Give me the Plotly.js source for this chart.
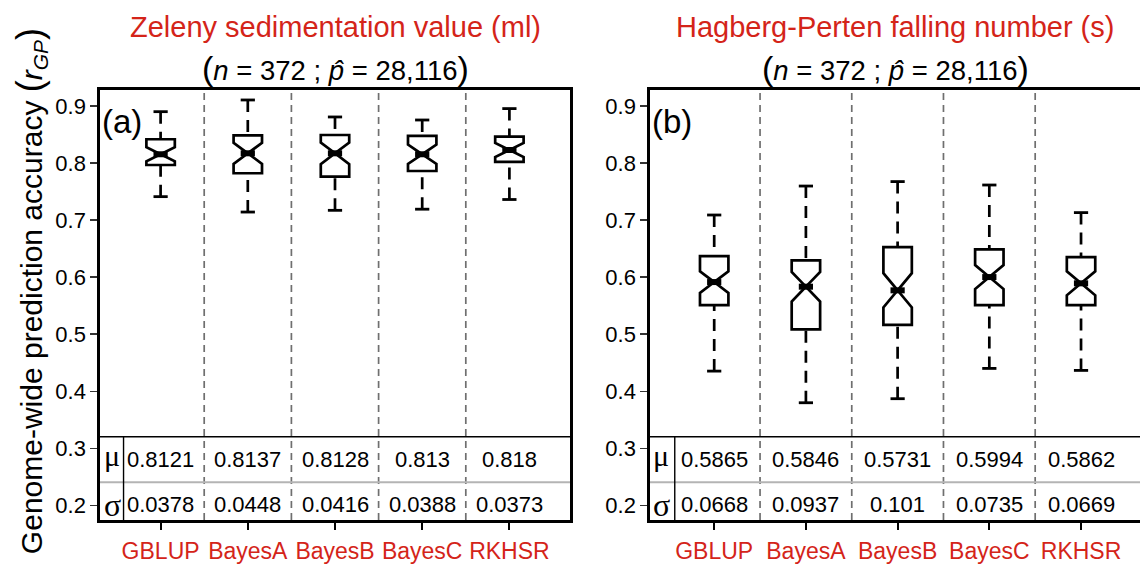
<!DOCTYPE html>
<html>
<head>
<meta charset="utf-8">
<script src="https://cdn.plot.ly/plotly-3.0.1.min.js"></script>
<style>html,body{margin:0;padding:0;background:#fff;}#chart{width:1140px;height:565px;}</style>
</head>
<body>
<div id="chart"></div>
<script>
// ---- data ----
const categories = ['GBLUP', 'BayesA', 'BayesB', 'BayesC', 'RKHSR'];

// (a) Zeleny sedimentation value
const zelLower  = [0.741, 0.714, 0.717, 0.719, 0.736];
const zelQ1     = [0.7965, 0.782, 0.776, 0.786, 0.802];
const zelMedian = [0.8153, 0.817, 0.817, 0.8153, 0.8228];
const zelQ3     = [0.8416, 0.8486, 0.8491, 0.8474, 0.8463];
const zelUpper  = [0.890, 0.9105, 0.8807, 0.8754, 0.8954];
const zelNotch  = [0.0125, 0.0185, 0.019, 0.017, 0.0123];
const zelMean   = [0.8121, 0.8137, 0.8128, 0.813, 0.818];
const zelSD     = [0.0378, 0.0448, 0.0416, 0.0388, 0.0373];

// (b) Hagberg-Perten falling number
const hfnLower  = [0.4351, 0.3796, 0.3867, 0.4398, 0.4363];
const hfnQ1     = [0.5509, 0.5082, 0.5161, 0.5509, 0.5509];
const hfnMedian = [0.5912, 0.5831, 0.5767, 0.600, 0.589];
const hfnQ3     = [0.6368, 0.6293, 0.6526, 0.6486, 0.6351];
const hfnUpper  = [0.7088, 0.7596, 0.7674, 0.7614, 0.7130];
const hfnNotch  = [0.019, 0.026, 0.030, 0.021, 0.021];
const hfnMean   = [0.5865, 0.5846, 0.5731, 0.5994, 0.5862];
const hfnSD     = [0.0668, 0.0937, 0.101, 0.0735, 0.0669];

const titleA = 'Zeleny sedimentation value (ml)';
const titleB = 'Hagberg-Perten falling number (s)';
const subTitle = '<span style="font-size:34px">(</span><i>n</i> = 372 ; <i>p\u0302</i> = 28,116<span style="font-size:34px">)</span>';
const yTitle = 'Genome-wide prediction accuracy <span style="font-size:36px">(</span><i>r</i><sub><i>GP</i></sub><span style="font-size:36px">)</span>';
const yTicks = [0.2, 0.3, 0.4, 0.5, 0.6, 0.7, 0.8, 0.9];

// ---- styling ----
const RED = '#d42419';
const FONT = '"Liberation Sans", Arial, sans-serif';
const yRange = [0.174, 0.928];

function panel(lo, q1, med, q3, hi, notch, xa, ya, w) {
  const xs = categories.map((c, i) => i);
  const wx = [], wy = [], cx = [], cy = [], mx = [], my = [];
  xs.forEach((x, i) => {
    wx.push(x, x, null, x, x, null);
    wy.push(hi[i], q3[i], null, lo[i], q1[i], null);
    cx.push(x - w / 4, x + w / 4, null, x - w / 4, x + w / 4, null);
    cy.push(hi[i], hi[i], null, lo[i], lo[i], null);
    mx.push(x - w / 4, x + w / 4, null);
    my.push(med[i], med[i], null);
  });
  return [
    {type: 'scatter', mode: 'lines', x: wx, y: wy, xaxis: xa, yaxis: ya,
     line: {color: 'black', width: 2.7, dash: '12px,8px'}, hoverinfo: 'skip', showlegend: false},
    {type: 'box', x: xs, q1: q1, median: med, q3: q3, lowerfence: q1, upperfence: q3,
     notchspan: notch, notched: true, notchwidth: 0.5, width: w, whiskerwidth: 0,
     boxpoints: false, fillcolor: 'white', line: {color: 'black', width: 2.7},
     xaxis: xa, yaxis: ya, hoverinfo: 'skip', showlegend: false},
    {type: 'scatter', mode: 'lines', x: mx, y: my, xaxis: xa, yaxis: ya,
     line: {color: 'black', width: 6}, hoverinfo: 'skip', showlegend: false},
    {type: 'scatter', mode: 'lines', x: cx, y: cy, xaxis: xa, yaxis: ya,
     line: {color: 'black', width: 2.8}, hoverinfo: 'skip', showlegend: false}
  ];
}

const data = [].concat(
  panel(zelLower, zelQ1, zelMedian, zelQ3, zelUpper, zelNotch, 'x', 'y', 0.326),
  panel(hfnLower, hfnQ1, hfnMedian, hfnQ3, hfnUpper, hfnNotch, 'x2', 'y2', 0.31)
);

function xAxis(domain, range, anchor) {
  return {domain: domain, range: range, anchor: anchor, tickmode: 'array',
    tickvals: categories.map((c, i) => i), ticktext: categories,
    tickfont: {family: FONT, size: 23, color: RED}, ticks: 'outside', ticklen: 7,
    tickwidth: 2.2, tickcolor: 'black', ticklabelstandoff: 2,
    showline: true, linewidth: 2.7, linecolor: 'black', mirror: true,
    showgrid: false, zeroline: false, fixedrange: true};
}
function yAxis(anchor, mirror) {
  return {domain: [0, 1], range: yRange, anchor: anchor, tickmode: 'array',
    tickvals: yTicks, ticktext: yTicks.map(v => v.toFixed(1)),
    tickfont: {family: FONT, size: 22, color: 'black'}, ticks: 'outside', ticklen: 7,
    tickwidth: 1.2, tickcolor: '#333', ticklabelstandoff: 0,
    showline: true, linewidth: 2.7, linecolor: 'black', mirror: mirror,
    showgrid: false, zeroline: false, fixedrange: true};
}

const shapes = [];
const annotations = [];
function panelDecor(xr, yr, mean, sd, label, title, muX, vX) {
  [0.5, 1.5, 2.5, 3.5].forEach(k => shapes.push({type: 'line', xref: xr, yref: yr + ' domain',
    x0: k, x1: k, y0: 0, y1: 1, line: {color: '#6f6f6f', width: 1.7, dash: '7px,5px'}, layer: 'below'}));
  shapes.push({type: 'line', xref: xr + ' domain', yref: yr, x0: 0, x1: 1, y0: 0.32, y1: 0.32,
    line: {color: 'black', width: 1.3}});
  shapes.push({type: 'line', xref: xr + ' domain', yref: yr, x0: 0, x1: 1, y0: 0.24, y1: 0.24,
    line: {color: '#b4b4b4', width: 2}});
  shapes.push({type: 'line', xref: xr, yref: yr, x0: vX, x1: vX, y0: yRange[0], y1: 0.32,
    line: {color: 'black', width: 1.4}});
  annotations.push({xref: xr, yref: yr, x: muX, y: 0.287, text: '\u03bc', showarrow: false,
    font: {family: '"Liberation Serif", serif', size: 30, color: 'black'}});
  annotations.push({xref: xr, yref: yr, x: muX, y: 0.201, text: '\u03c3', showarrow: false,
    font: {family: '"Liberation Serif", serif', size: 32, color: 'black'}});
  categories.forEach((c, i) => {
    annotations.push({xref: xr, yref: yr, x: i, y: 0.28, text: String(mean[i]), showarrow: false,
      font: {family: FONT, size: 22, color: 'black'}});
    annotations.push({xref: xr, yref: yr, x: i, y: 0.201, text: String(sd[i]), showarrow: false,
      font: {family: FONT, size: 22, color: 'black'}});
  });
  annotations.push({xref: xr + ' domain', yref: 'paper', x: 0.0, y: 0.926, xanchor: 'left',
    yanchor: 'middle', text: label, showarrow: false, font: {family: FONT, size: 33, color: 'black'}});
  annotations.push({xref: xr + ' domain', yref: 'paper', x: 0.5, y: 1.147, xanchor: 'center',
    yanchor: 'middle', text: title, showarrow: false, font: {family: FONT, size: 29, color: RED}});
  annotations.push({xref: xr + ' domain', yref: 'paper', x: 0.5, y: 1.05, xanchor: 'center',
    yanchor: 'middle', text: subTitle, showarrow: false, font: {family: FONT, size: 27.5, color: 'black'}});
}
panelDecor('x', 'y', zelMean, zelSD, '(a)', titleA, -0.553, -0.425);
panelDecor('x2', 'y2', hfnMean, hfnSD, '(b)', titleB, -0.58, -0.43);

annotations.push({xref: 'paper', yref: 'paper', x: -0.067, y: 0.533, textangle: -90,
  xanchor: 'center', yanchor: 'middle', text: yTitle, showarrow: false,
  font: {family: FONT, size: 30, color: 'black'}});

const layout = {
  width: 1140, height: 565,
  margin: {l: 100, r: 0, t: 90, b: 45, pad: 0},
  paper_bgcolor: 'white', plot_bgcolor: 'white',
  showlegend: false,
  xaxis: xAxis([0, 470 / 1040], [-0.695, 4.695], 'y'),
  yaxis: yAxis('x', true),
  xaxis2: xAxis([550 / 1040, 1], [-0.70, 4.643], 'y2'),
  yaxis2: yAxis('x2', false),
  shapes: shapes,
  annotations: annotations
};

Plotly.newPlot('chart', data, layout, {displayModeBar: false, staticPlot: true});
</script>
</body>
</html>
